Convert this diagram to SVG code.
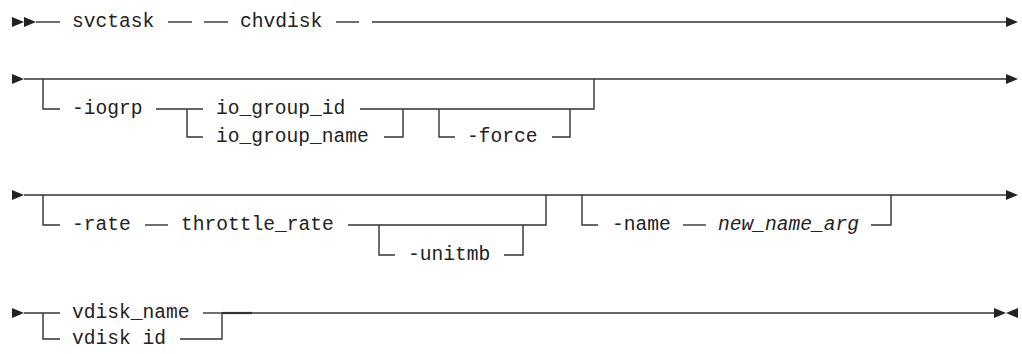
<svg xmlns="http://www.w3.org/2000/svg" width="1022" height="354" viewBox="0 0 1022 354">
<style>
text{font-family:"Liberation Mono","DejaVu Sans Mono",monospace;font-size:19.6px;fill:#222}
.it{font-style:italic}
.c path,.c line{fill:none;stroke:#333;stroke-width:1.4}
.a{fill:#222;stroke:none}
</style>
<rect width="1022" height="354" fill="#fff"/>
<g id="connectors" class="c">
<!-- row 1 -->
<polygon class="a" points="12,17 24,22 12,27"/>
<polygon class="a" points="24,17 36,22 24,27"/>
<line x1="36" y1="22" x2="60" y2="22"/>
<line x1="168" y1="22" x2="192" y2="22"/>
<line x1="204" y1="22" x2="228" y2="22"/>
<line x1="336" y1="22" x2="359" y2="22"/>
<line x1="372" y1="22" x2="1006" y2="22"/>
<polygon class="a" points="1006,17 1018,22 1006,27"/>
<!-- row 2 -->
<polygon class="a" points="12,74 24,79 12,84"/>
<line x1="24" y1="79" x2="1006" y2="79"/>
<polygon class="a" points="1006,74 1018,79 1006,84"/>
<path d="M43 79V109H60"/>
<line x1="156" y1="109" x2="203" y2="109"/>
<path d="M187 109V137H203"/>
<path d="M360 109H594V79"/>
<path d="M384 137H403V109"/>
<path d="M439 109V137H455"/>
<path d="M552 137H570V109"/>
<!-- row 3 -->
<polygon class="a" points="12,190 24,195 12,200"/>
<line x1="24" y1="195" x2="1006" y2="195"/>
<polygon class="a" points="1006,190 1018,195 1006,200"/>
<path d="M43 195V225H60"/>
<line x1="145" y1="225" x2="168" y2="225"/>
<path d="M348 225H546V195"/>
<path d="M379 225V255H395"/>
<path d="M504 255H523V225"/>
<path d="M582 195V225H598"/>
<line x1="683" y1="225" x2="706" y2="225"/>
<path d="M871 225H891V195"/>
<!-- row 4 -->
<polygon class="a" points="12,308 24,313 12,318"/>
<line x1="24" y1="313" x2="60" y2="313"/>
<path d="M43 313V339H60"/>
<line x1="203" y1="313" x2="222" y2="313"/>
<path d="M180 339H222V313"/>
<line x1="222" y1="313" x2="994" y2="313"/>
<line x1="222" y1="313" x2="252" y2="313" style="stroke-width:2.2"/>
<polygon class="a" points="994,308 1006,313 994,318"/>
<polygon class="a" points="1018,308 1006,313 1018,318"/>
</g>
<g id="n-svctask"><text x="72" y="27">svctask</text></g>
<g id="n-chvdisk"><text x="240" y="27">chvdisk</text></g>
<g id="n-iogrp"><text x="72" y="114">-iogrp</text></g>
<g id="n-io_group_id"><text x="216" y="114">io_group_id</text></g>
<g id="n-io_group_name"><text x="216" y="142">io_group_name</text></g>
<g id="n-force"><text x="467" y="142">-force</text></g>
<g id="n-rate"><text x="72" y="230">-rate</text></g>
<g id="n-throttle_rate"><text x="181" y="230">throttle_rate</text></g>
<g id="n-unitmb"><text x="408" y="260">-unitmb</text></g>
<g id="n-name"><text x="612" y="230">-name</text></g>
<g id="n-new_name_arg"><text class="it" x="718" y="230">new_name_arg</text></g>
<g id="n-vdisk_name"><text x="72" y="318">vdisk_name</text></g>
<g id="n-vdisk_id"><text x="72" y="344">vdisk id</text></g>
</svg>
